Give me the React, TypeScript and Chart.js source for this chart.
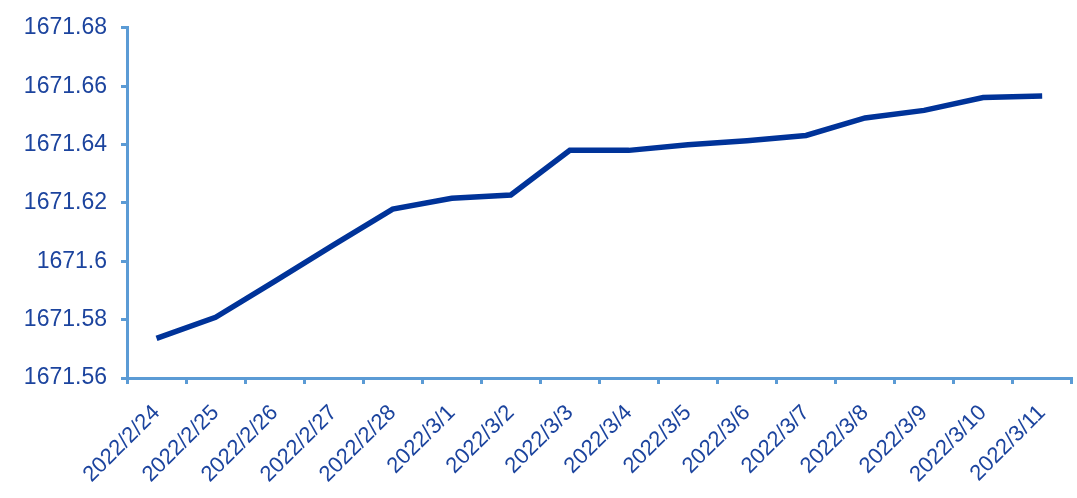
import React, { useEffect, useRef } from "react";
import { Chart, registerables } from "chart.js";

Chart.register(...registerables);

const categories = [
  "2022/2/24", "2022/2/25", "2022/2/26", "2022/2/27", "2022/2/28",
  "2022/3/1", "2022/3/2", "2022/3/3", "2022/3/4", "2022/3/5",
  "2022/3/6", "2022/3/7", "2022/3/8", "2022/3/9", "2022/3/10", "2022/3/11",
];

const values = [
  1671.5736, 1671.5808, 1671.5931, 1671.6056, 1671.6179,
  1671.6216, 1671.6227, 1671.638, 1671.638, 1671.6399,
  1671.6413, 1671.6431, 1671.6491, 1671.6517, 1671.6561, 1671.6566,
];

const yMin = 1671.56;
const yMax = 1671.68;
const yStep = 0.02;

export default function App() {
  const ref = useRef<HTMLCanvasElement | null>(null);

  useEffect(() => {
    document.body.style.margin = "0";
    if (!ref.current) return;
    const labelColor = "#1C449E";
    const axisColor = "#5B9BD5";
    const chart = new Chart(ref.current, {
      type: "line",
      data: {
        labels: categories,
        datasets: [
          {
            data: values,
            borderColor: "#003399",
            borderWidth: 5.5,
            pointRadius: 0,
            tension: 0,
            fill: false,
          },
        ],
      },
      options: {
        animation: false,
        responsive: false,
        maintainAspectRatio: false,
        layout: { padding: { left: 0, top: 26, right: 5, bottom: 0 } },
        plugins: { legend: { display: false }, tooltip: { enabled: false } },
        scales: {
          x: {
            offset: true,
            afterFit: (s: any) => {
              s.height = 120;
            },
            grid: {
              offset: true,
              drawOnChartArea: false,
              drawTicks: true,
              tickLength: 6,
              color: axisColor,
              lineWidth: 3,
            },
            border: { color: axisColor, width: 3 },
            ticks: {
              color: labelColor,
              font: { family: "'Liberation Sans', Arial, sans-serif", size: 22 },
              maxRotation: 45,
              minRotation: 45,
              autoSkip: false,
              padding: 16,
            },
          },
          y: {
            min: yMin,
            max: yMax,
            afterFit: (s: any) => {
              s.width = 127;
            },
            grid: {
              drawOnChartArea: false,
              drawTicks: true,
              tickLength: 6,
              color: axisColor,
              lineWidth: 3,
            },
            border: { color: axisColor, width: 3 },
            ticks: {
              stepSize: yStep,
              color: labelColor,
              padding: 14,
              font: { family: "'Liberation Sans', Arial, sans-serif", size: 23 },
              callback: (v: any) => String(Math.round(Number(v) * 100) / 100),
            },
          },
        },
      },
    });
    return () => chart.destroy();
  }, []);

  return (
    <div style={{ width: 1077, height: 498, background: "#fff" }}>
      <canvas ref={ref} width={1077} height={498} style={{ display: "block" }} />
    </div>
  );
}
